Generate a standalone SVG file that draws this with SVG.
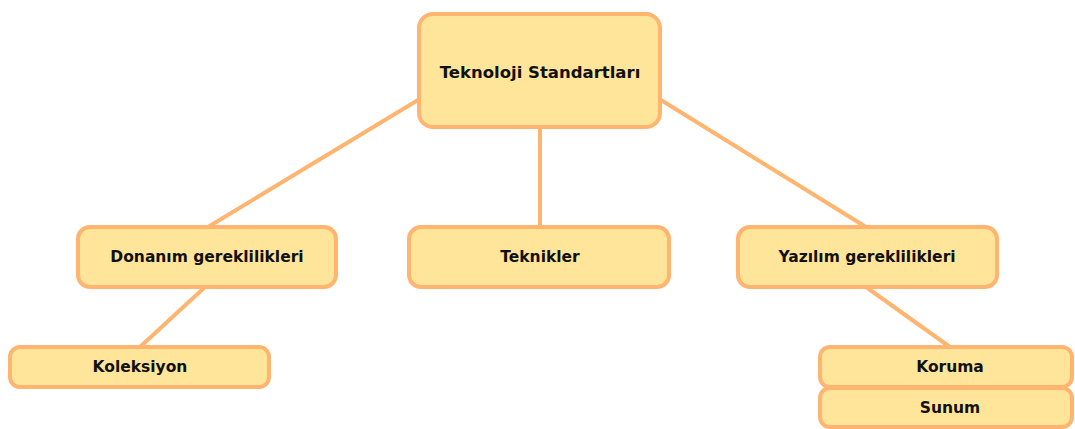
<svg xmlns="http://www.w3.org/2000/svg" width="1075" height="429" viewBox="0 0 1075 429">
<style>
.n{fill:#FFE599;stroke:#FFB570;stroke-width:4}
.t{font-family:"DejaVu Sans",Verdana,sans-serif;font-weight:bold;font-size:15.5px;fill:#111;text-anchor:middle;dominant-baseline:central}
.c{stroke:#FFB570;stroke-width:4;fill:none}
</style>
<rect width="1075" height="429" fill="#fff"/>
<g id="connectors">
<line class="c" x1="418" y1="100" x2="208" y2="227"/>
<line class="c" x1="540" y1="127" x2="540" y2="227"/>
<line class="c" x1="661" y1="100" x2="866" y2="227"/>
<line class="c" x1="205" y1="287" x2="140" y2="347"/>
<line class="c" x1="866" y1="287" x2="950" y2="347"/>
</g>
<g id="root"><rect class="n" x="419" y="14" width="241" height="113" rx="14"/><text class="t" x="540" y="72" style="font-size:16.5px">Teknoloji Standartları</text></g>
<g id="donanim"><rect class="n" x="78" y="227" width="258" height="60" rx="12"/><text class="t" x="207" y="257">Donanım gereklilikleri</text></g>
<g id="teknikler"><rect class="n" x="409" y="227" width="260" height="60" rx="12"/><text class="t" x="540" y="257">Teknikler</text></g>
<g id="yazilim"><rect class="n" x="738" y="227" width="259" height="60" rx="12"/><text class="t" x="867" y="257">Yazılım gereklilikleri</text></g>
<g id="koleksiyon"><rect class="n" x="10" y="347" width="259" height="40" rx="10"/><text class="t" x="140" y="367">Koleksiyon</text></g>
<g id="koruma"><rect class="n" x="820" y="347" width="252" height="40" rx="10"/><text class="t" x="950" y="367">Koruma</text></g>
<g id="sunum"><rect class="n" x="820" y="388" width="252" height="39" rx="10"/><text class="t" x="950" y="408">Sunum</text></g>
</svg>
